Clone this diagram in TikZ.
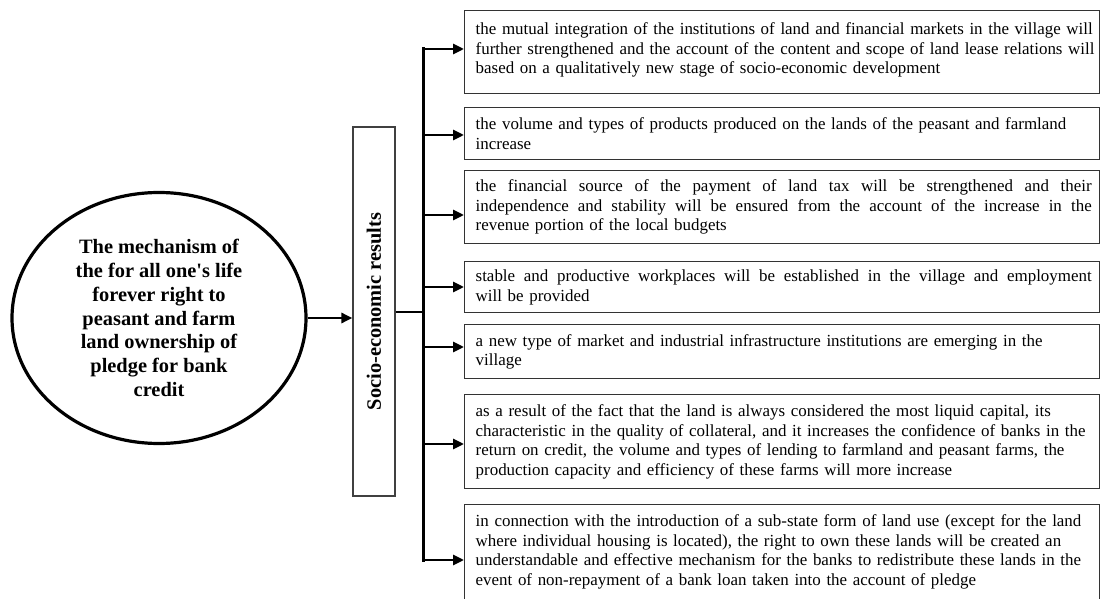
\documentclass[tikz,border=0pt]{standalone}
\usepackage{fontspec}
\setmainfont{Liberation Serif}
\usetikzlibrary{arrows.meta,shapes.geometric}
\newlength\upx
\setlength\upx{0.75pt}
\newcommand\Ln[1]{\mbox{#1}}
\newcommand\Jl[1]{\leavevmode\hbox to 616\upx{\spaceskip=0.25em plus 2em\relax #1}}
\hfuzz=20pt
\hbadness=10000
\begin{document}
\begin{tikzpicture}[x=0.75pt,y=-0.75pt,
  ell/.style={draw, ellipse, line width=3.2\upx, minimum width=294\upx, minimum height=251\upx,
    inner sep=0pt, align=center, font=\fontsize{15.3pt}{17.8pt}\selectfont\bfseries},
  vbox/.style={draw=black!75, line width=1.3\upx, rectangle, minimum width=42\upx,
    minimum height=369\upx, inner sep=0pt, font=\fontsize{15.3pt}{17.8pt}\selectfont\bfseries},
  resbox/.style={draw=black!80, line width=1.4\upx, rectangle, anchor=north west,
    inner xsep=11\upx, inner ysep=2\upx, text width=613\upx, align=left,
    font=\fontsize{12.7pt}{14.6pt}\selectfont},
  arr/.style={line width=2.05pt, -{Triangle[length=8.2pt,width=7.5pt]}},
  trunk/.style={line width=2.4pt, line cap=rect},
  link/.style={line width=1.6pt}]
\useasboundingbox (0,0) rectangle (1101,599);
\fill[white] (0,0) rectangle (1101,599);

\node[ell] (mech) at (159,318) {The mechanism of\\the for all one\textquotesingle s life\\forever right to\\peasant and farm\\land ownership of\\pledge for bank\\credit};

\node[vbox] (res) at (374,311.5) {\rotatebox{90}{Socio-economic results}};

\node[resbox, minimum height=83\upx] (b1) at (464,10) {\Ln{the mutual integration of the institutions of land and financial markets in the village will}\\\Ln{further strengthened and the account of the content and scope of land lease relations will}\\\Ln{based on a qualitatively new stage of socio-economic development}\rule[-8\upx]{0pt}{0pt}};

\node[resbox, minimum height=52\upx] (b2) at (464,107) {\Ln{the volume and types of products produced on the lands of the peasant and farmland}\\\Ln{increase}};

\node[resbox, minimum height=73\upx] (b3) at (464,170) {\Jl{the financial source of the payment of land tax will be strengthened and their}\\\Jl{independence and stability will be ensured from the account of the increase in the}\\\Ln{revenue portion of the local budgets}};

\node[resbox, minimum height=51\upx] (b4) at (464,261) {\Jl{stable and productive workplaces will be established in the village and employment}\\\Ln{will be provided}};

\node[resbox, minimum height=54\upx] (b5) at (464,324) {\Ln{a new type of market and industrial infrastructure institutions are emerging in the}\\\Ln{village}};

\node[resbox, minimum height=94\upx] (b6) at (464,394) {\Ln{as a result of the fact that the land is always considered the most liquid capital, its}\\\Ln{characteristic in the quality of collateral, and it increases the confidence of banks in the}\\\Ln{return on credit, the volume and types of lending to farmland and peasant farms, the}\\\Ln{production capacity and efficiency of these farms will more increase}};

\node[resbox, minimum height=111\upx] (b7) at (464,504) {\Ln{in connection with the introduction of a sub-state form of land use (except for the land}\\\Ln{where individual housing is located), the right to own these lands will be created an}\\\Ln{understandable and effective mechanism for the banks to redistribute these lands in the}\\\Ln{event of non-repayment of a bank loan taken into the account of pledge}\rule[-20\upx]{0pt}{0pt}};

\coordinate (t1) at (423.5,49);
\coordinate (t2) at (423.5,135);
\coordinate (t3) at (423.5,215);
\coordinate (t4) at (423.5,287);
\coordinate (t5) at (423.5,347);
\coordinate (t6) at (423.5,444);
\coordinate (t7) at (423.5,560);
\coordinate (j) at (423.5,312);

\draw[arr] (mech.east) -- (mech.east -| res.west);
\draw[link] (j -| res.east) -- (j);
\draw[trunk] (t1) -- (t7);
\foreach \i in {1,...,7} {\draw[arr] (t\i) -- (t\i -| b\i.west);}
\end{tikzpicture}
\end{document}
